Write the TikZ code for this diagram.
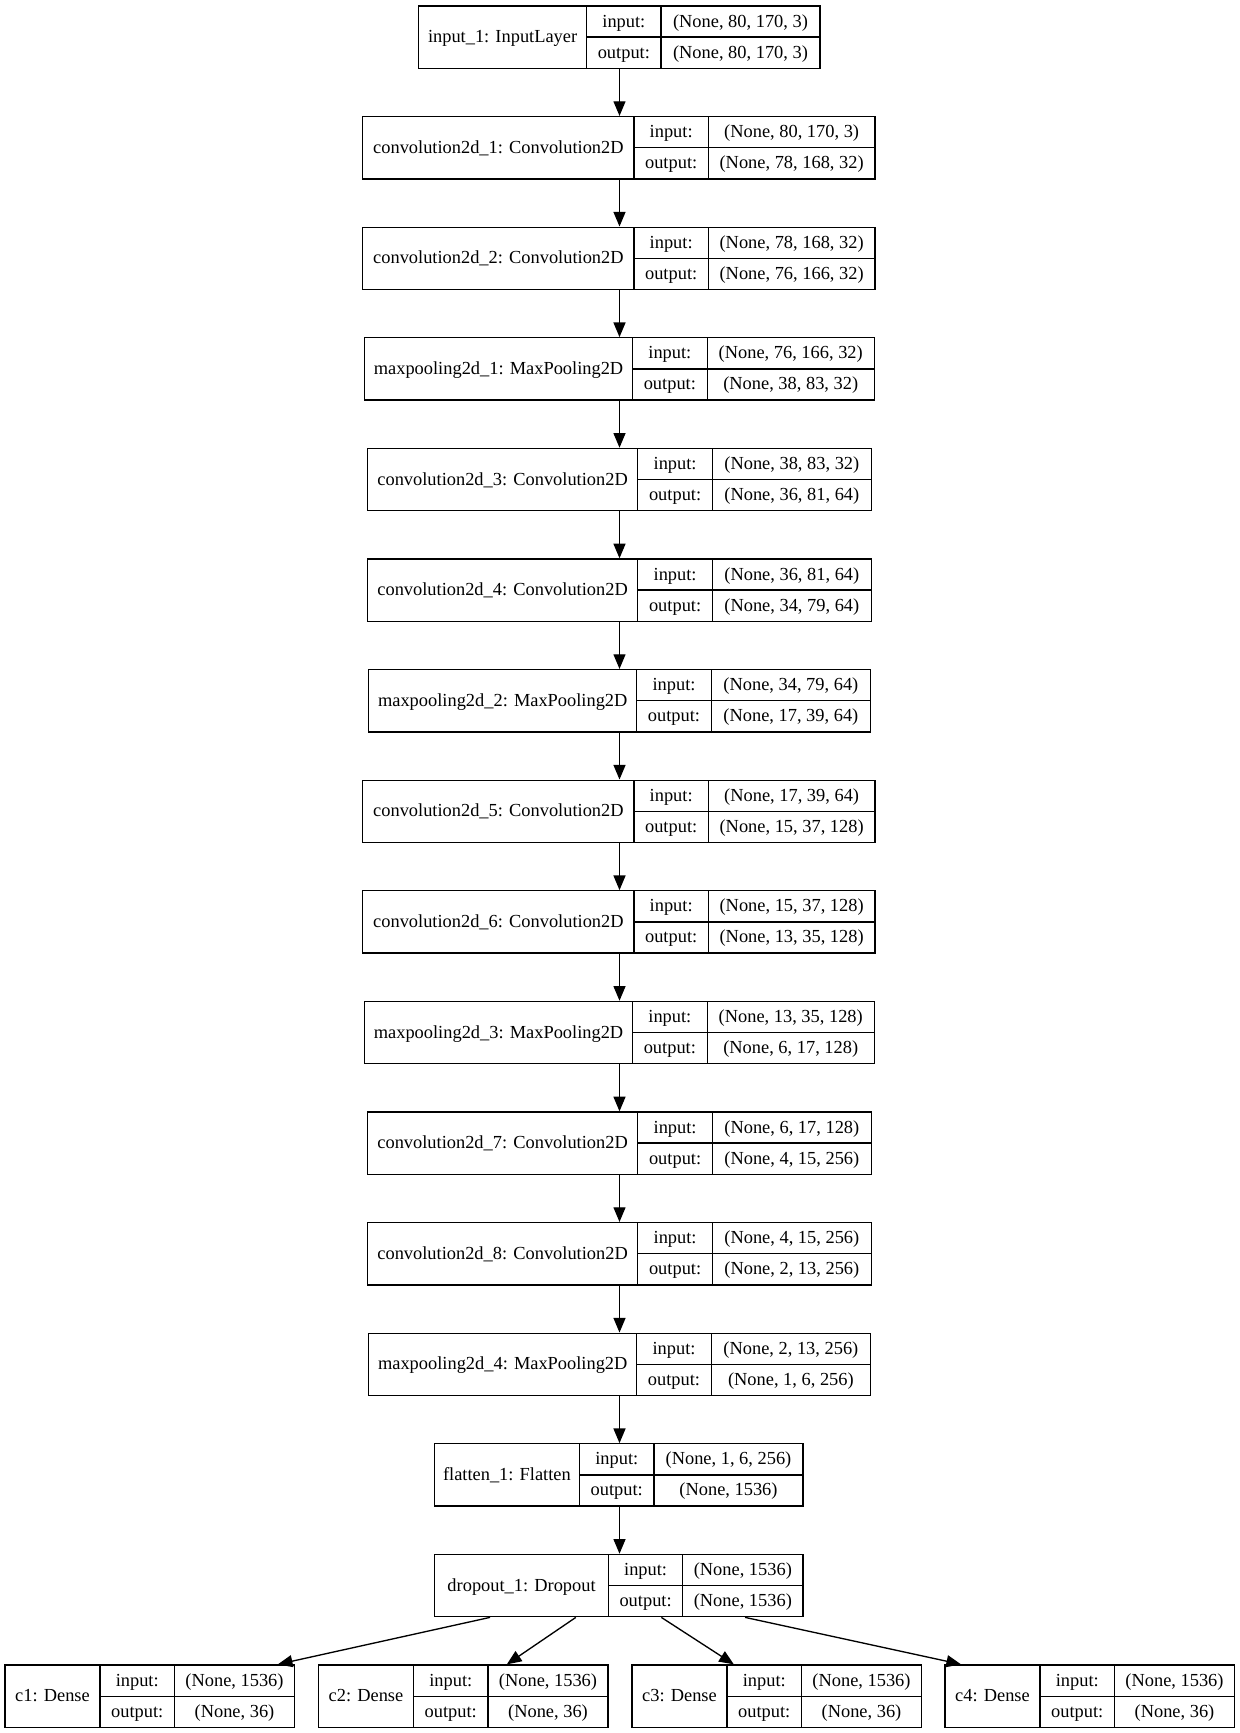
\documentclass[tikz,border=0pt]{standalone}
\usepackage{fontspec}
\setmainfont{Liberation Serif}
\usetikzlibrary{arrows.meta,fit,calc}

% One Keras layer record: name | input:/output: | shapes
% #1 node name, #2 top y, #3 left x, #4 first divider x, #5 second divider x,
% #6 right x, #7 layer label, #8 input shape, #9 output shape
\newcommand{\layerbox}[9]{%
  \pgfmathsetmacro{\ltop}{#2}%
  \pgfmathsetmacro{\lbot}{#2+62.3}%
  \pgfmathsetmacro{\lmid}{#2+31.15}%
  \pgfmathsetmacro{\lup}{#2+15.6}%
  \pgfmathsetmacro{\llow}{#2+46.7}%
  \node[layer, fit={(#3,\ltop) (#6,\lbot)}] (#1) {};
  \draw[cell] (#4,\ltop) -- (#4,\lbot) (#5,\ltop) -- (#5,\lbot) (#4,\lmid) -- (#6,\lmid);
  \node[txt] (#1-name) at ({(#3+#4)/2},\lmid) {#7};
  \node[txt] (#1-ink) at ({(#4+#5)/2},\lup) {input:};
  \node[txt] (#1-outk) at ({(#4+#5)/2},\llow) {output:};
  \node[txt] (#1-inv) at ({(#5+#6)/2},\lup) {#8};
  \node[txt] (#1-outv) at ({(#5+#6)/2},\llow) {#9};
}

\begin{document}
\begin{tikzpicture}[
  x=0.75bp, y=-0.75bp,
  layer/.style={draw=black, line width=1bp, rectangle, inner sep=0pt},
  cell/.style={draw=black, line width=1bp},
  txt/.style={inner sep=0pt, text height=11.2bp, text depth=3bp,
    font=\fontsize{13.8bp}{16bp}\selectfont},
  edge/.style={draw=black, line width=1bp, -{Triangle[length=11bp,width=9bp]}}
]
\fill[white] (0,0) rectangle (1240,1733);
\useasboundingbox (0,0) rectangle (1240,1733);

\coordinate (spine) at (619.5,0);

\layerbox{in1}{6}{418.5}{586.7}{661}{820}{input\_1: InputLayer}{(None, 80, 170, 3)}{(None, 80, 170, 3)}
\layerbox{cv1}{116.6}{362.8}{634}{708.3}{875}{convolution2d\_1: Convolution2D}{(None, 80, 170, 3)}{(None, 78, 168, 32)}
\layerbox{cv2}{227.2}{362.8}{634}{708.3}{875}{convolution2d\_2: Convolution2D}{(None, 78, 168, 32)}{(None, 76, 166, 32)}
\layerbox{mp1}{337.8}{364.6}{632.5}{707.2}{874.3}{maxpooling2d\_1: MaxPooling2D}{(None, 76, 166, 32)}{(None, 38, 83, 32)}
\layerbox{cv3}{448.4}{367.5}{637.7}{712.5}{871.2}{convolution2d\_3: Convolution2D}{(None, 38, 83, 32)}{(None, 36, 81, 64)}
\layerbox{cv4}{559}{367.5}{637.7}{712.5}{871.2}{convolution2d\_4: Convolution2D}{(None, 36, 81, 64)}{(None, 34, 79, 64)}
\layerbox{mp2}{669.6}{368.8}{636.7}{711.3}{870.5}{maxpooling2d\_2: MaxPooling2D}{(None, 34, 79, 64)}{(None, 17, 39, 64)}
\layerbox{cv5}{780.2}{362.8}{634}{708.3}{875}{convolution2d\_5: Convolution2D}{(None, 17, 39, 64)}{(None, 15, 37, 128)}
\layerbox{cv6}{890.8}{362.8}{634}{708.3}{875}{convolution2d\_6: Convolution2D}{(None, 15, 37, 128)}{(None, 13, 35, 128)}
\layerbox{mp3}{1001.4}{364.6}{632.5}{707.2}{874.3}{maxpooling2d\_3: MaxPooling2D}{(None, 13, 35, 128)}{(None, 6, 17, 128)}
\layerbox{cv7}{1112}{367.5}{637.7}{712.5}{871.2}{convolution2d\_7: Convolution2D}{(None, 6, 17, 128)}{(None, 4, 15, 256)}
\layerbox{cv8}{1222.6}{367.5}{637.7}{712.5}{871.2}{convolution2d\_8: Convolution2D}{(None, 4, 15, 256)}{(None, 2, 13, 256)}
\layerbox{mp4}{1333.2}{368.8}{636.7}{711.3}{870.5}{maxpooling2d\_4: MaxPooling2D}{(None, 2, 13, 256)}{(None, 1, 6, 256)}
\layerbox{fl1}{1443.8}{434.3}{579.5}{654}{803}{flatten\_1: Flatten}{(None, 1, 6, 256)}{(None, 1536)}
\layerbox{do1}{1554.4}{434.7}{608.5}{682.7}{803}{dropout\_1: Dropout}{(None, 1536)}{(None, 1536)}
\layerbox{c1}{1665}{5}{100}{174.5}{294.5}{c1: Dense}{(None, 1536)}{(None, 36)}
\layerbox{c2}{1665}{318.5}{413.5}{488}{608}{c2: Dense}{(None, 1536)}{(None, 36)}
\layerbox{c3}{1665}{632}{727}{801.5}{921.5}{c3: Dense}{(None, 1536)}{(None, 36)}
\layerbox{c4}{1665}{945}{1040}{1114.5}{1234.5}{c4: Dense}{(None, 1536)}{(None, 36)}

% sequential chain
\foreach \a/\b in {in1/cv1, cv1/cv2, cv2/mp1, mp1/cv3, cv3/cv4, cv4/mp2, mp2/cv5,
                   cv5/cv6, cv6/mp3, mp3/cv7, cv7/cv8, cv8/mp4, mp4/fl1, fl1/do1}
  \draw[edge] (\a.south -| spine) -- (\b.north -| spine);

% fan-out to the four dense heads
\draw[edge] ($(do1.south west)+(56,0)$) -- ($(c1.north west)+(273.5,0)$);
\draw[edge] ($(do1.south west)+(141.8,0)$) -- ($(c2.north west)+(189,0)$);
\draw[edge] ($(do1.south west)+(227.3,0)$) -- ($(c3.north west)+(102.5,0)$);
\draw[edge] ($(do1.south west)+(311,0)$) -- ($(c4.north west)+(16.7,0)$);
\end{tikzpicture}
\end{document}
